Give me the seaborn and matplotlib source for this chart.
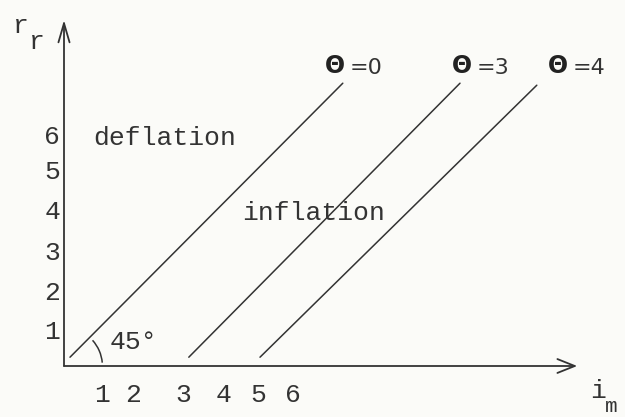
import numpy as np
import pandas as pd
import matplotlib
matplotlib.use("Agg")
import matplotlib.pyplot as plt
from matplotlib.patches import Arc
import seaborn as sns

# Fisher-type lines r_r = i_m - expected inflation, one per Theta value
theta = [0, 3, 4]
theta_labels = ["=0", "=3", "=4"]
line_x0 = [0.15, 3.12, 4.90]
line_x1 = [6.97, 9.90, 11.82]
line_y0 = [0.22, 0.22, 0.22]
line_y1 = [7.07, 7.07, 7.02]

# typed axis numbers and where they sit along each axis
x_tick_text = ["1", "2", "3", "4", "5", "6"]
x_tick_pos = [0.95, 1.73, 2.98, 3.98, 4.85, 5.73]
y_tick_text = ["1", "2", "3", "4", "5", "6"]
y_tick_pos = [0.85, 1.83, 2.83, 3.85, 4.85, 5.73]

ink = "#333333"
paper = "#fbfbf8"

sns.set_theme(style="white")
plt.rcParams["font.family"] = ["Liberation Mono", "DejaVu Sans Mono", "DejaVu Sans"]

fig = plt.figure(figsize=(6.25, 4.17), dpi=100, facecolor=paper)
ax = fig.add_axes([0, 0, 1, 1])
ax.set_facecolor(paper)
ax.set_xlim(-1.6, 14.025)
ax.set_ylim(-1.275, 9.15)
ax.axis("off")

rows = []
for t, xa, xb, ya, yb in zip(theta, line_x0, line_x1, line_y0, line_y1):
    rows.append({"i": xa, "r": ya, "theta": t})
    rows.append({"i": xb, "r": yb, "theta": t})
df = pd.DataFrame(rows)
sns.lineplot(data=df, x="i", y="r", hue="theta", palette=[ink] * 3,
             legend=False, sort=False, estimator=None, lw=1.1, ax=ax)

# axes drawn as open arrows
ax.annotate("", xy=(0, 8.65), xytext=(0, 0),
            arrowprops=dict(arrowstyle="->,head_length=0.55,head_width=0.16",
                            color=ink, lw=1.3, mutation_scale=25,
                            shrinkA=0, shrinkB=0))
ax.annotate("", xy=(12.83, 0), xytext=(0, 0),
            arrowprops=dict(arrowstyle="->,head_length=0.5,head_width=0.2",
                            color=ink, lw=1.3, mutation_scale=25,
                            shrinkA=0, shrinkB=0))

fs = 19
for t, p in zip(x_tick_text, x_tick_pos):
    ax.text(p, -0.725, t, ha="center", va="center", fontsize=fs, color=ink)
for t, p in zip(y_tick_text, y_tick_pos):
    ax.text(-0.1, p, t, ha="right", va="center", fontsize=fs, color=ink)

# axis names with typed subscripts
ax.text(-1.08, 8.5, "r", ha="center", va="center", fontsize=fs, color=ink)
ax.text(-0.68, 8.1, "r", ha="center", va="center", fontsize=fs, color=ink)
ax.text(13.35, -0.62, "i", ha="center", va="center", fontsize=fs, color=ink)
ax.text(13.67, -1.0, "m", ha="center", va="center", fontsize=15, color=ink)

# region names
ax.text(0.72, 5.53, "deflation", ha="left", va="baseline", fontsize=fs, color=ink)
ax.text(4.45, 3.65, "inflation", ha="left", va="baseline", fontsize=fs, color=ink)

# 45 degree angle mark
ax.add_patch(Arc((0, 0), 1.92, 1.92, theta1=5, theta2=42, color=ink, lw=1.1))
ax.text(1.15, 0.6, "45°", ha="left", va="center", fontsize=fs, color=ink)

# Theta labels above each line
sym_x = [6.78, 9.96, 12.35]
for sx, lab in zip(sym_x, theta_labels):
    ax.text(sx, 7.5, "Θ", ha="center", va="center", fontsize=17,
            fontweight="bold", color="#222222", family="DejaVu Sans")
    ax.text(sx + 0.36, 7.45, lab, ha="left", va="center", fontsize=16,
            color=ink, family="DejaVu Sans")

fig.savefig("out.png", dpi=100, facecolor=paper)
